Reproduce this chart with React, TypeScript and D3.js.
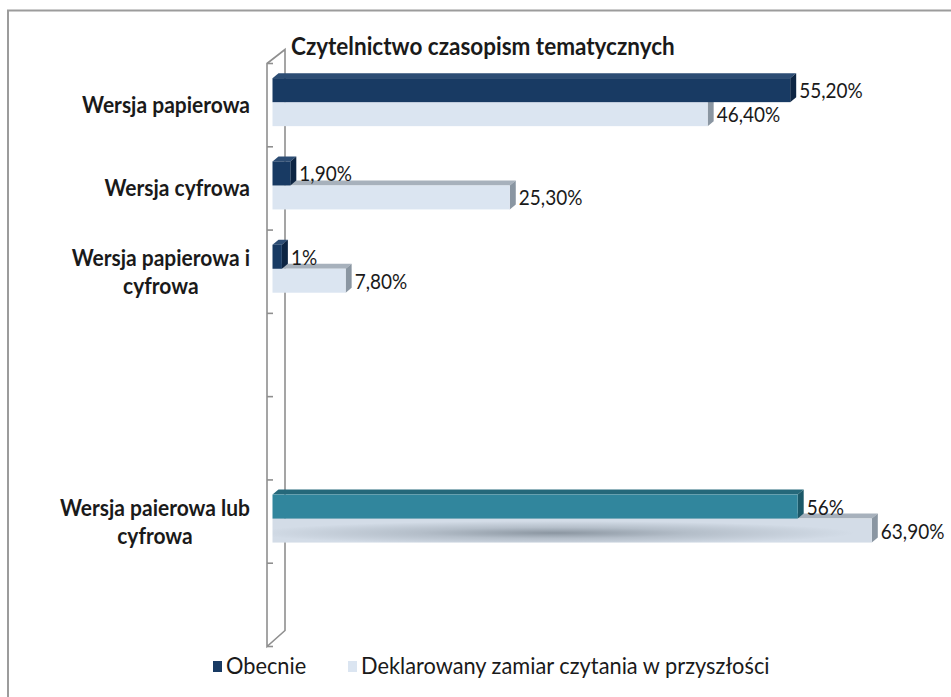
import React, { useEffect, useRef } from "react";
import * as d3 from "d3";

// chart data
const categoryLines: string[][] = [
  ["Wersja papierowa"],
  ["Wersja cyfrowa"],
  ["Wersja papierowa i", "cyfrowa"],
  [],
  [],
  ["Wersja paierowa lub", "cyfrowa"],
  [],
];
const obecnie: (number | null)[] = [55.2, 1.9, 1, null, null, 56, null];
const deklarowany: (number | null)[] = [46.4, 25.3, 7.8, null, null, 63.9, null];
const obecnieLabels = ["55,20%", "1,90%", "1%", "", "", "56%", ""];
const deklarowanyLabels = ["46,40%", "25,30%", "7,80%", "", "", "63,90%", ""];
const seriesNames = ["Obecnie", "Deklarowany zamiar czytania w przyszłości"];
const chartTitle = "Czytelnictwo czasopism tematycznych";
const summaryRow = 5; // drawn in teal with shaded bar

const W = 951;
const H = 697;
const FONT = "Lato, 'Open Sans', sans-serif";
const STRETCH = 1.1; // text in the reference is a bit tall
const DX = 6;
const DY = 5;

const navy = { front: "#183a63", top: "#2d4d74", side: "#0d2543" };
const light = { front: "#dbe5f1", top: "#a7b1bc", side: "#8a96a2" };
const teal = { front: "#31869d", top: "#25687a", side: "#1b5868" };

export default function App() {
  const ref = useRef<SVGSVGElement>(null);

  useEffect(() => {
    const svg = d3.select(ref.current);
    svg.selectAll("*").remove();

    const defs = svg.append("defs");
    const grad = defs
      .append("radialGradient")
      .attr("id", "shade")
      .attr("cx", 0.47)
      .attr("cy", 0.6)
      .attr("r", 0.5);
    grad.append("stop").attr("offset", "0%").attr("stop-color", "#8b96a1");
    grad.append("stop").attr("offset", "45%").attr("stop-color", "#b4bec9");
    grad.append("stop").attr("offset", "100%").attr("stop-color", "#d3dce7");

    // outer frame (cut off on the right and bottom)
    svg
      .append("rect")
      .attr("x", 8)
      .attr("y", 10.5)
      .attr("width", 1000)
      .attr("height", 1000)
      .attr("fill", "none")
      .attr("stroke", "#9c9c9c")
      .attr("stroke-width", 2);

    const idx = d3.range(categoryLines.length);
    const y = d3.scaleBand<number>().domain(idx).range([63.5, 646.5]);
    const x = d3.scaleLinear().domain([0, 70]).range([272.5, 929]);
    const bw = y.bandwidth();
    const sub = d3.scaleBand<number>().domain([0, 1]).range([0, 48]);

    // 3d wall
    const frontX = 267;
    const backX = 285;
    const wall = svg.append("g").attr("stroke", "#8f8f8f").attr("stroke-width", 1.6).attr("fill", "none");
    const y0 = y.range()[0];
    const y1 = y.range()[1];
    wall
      .append("path")
      .attr("d", `M${frontX},${y0} L${backX},${y0 - 14} L${backX},${y1 - 16} L${frontX},${y1} Z`);
    idx.concat([idx.length]).forEach((i) => {
      const ty = i < idx.length ? y(i)! : y1;
      wall.append("line").attr("x1", frontX).attr("x2", frontX + 6).attr("y1", ty).attr("y2", ty);
    });

    const bar3d = (
      g: d3.Selection<SVGGElement, unknown, null, undefined>,
      v: number,
      top: number,
      h: number,
      c: { front: string; top: string; side: string },
      frontFill?: string
    ) => {
      const a = x(0);
      const b = x(v);
      g.append("path")
        .attr("d", `M${a},${top} L${a + DX},${top - DY} L${b + DX},${top - DY} L${b},${top} Z`)
        .attr("fill", c.top);
      g.append("path")
        .attr("d", `M${b},${top} L${b + DX},${top - DY} L${b + DX},${top + h - DY} L${b},${top + h} Z`)
        .attr("fill", c.side);
      g.append("rect")
        .attr("x", a)
        .attr("y", top)
        .attr("width", b - a)
        .attr("height", h)
        .attr("fill", frontFill ?? c.front);
    };

    const label = (
      g: d3.Selection<any, unknown, null, undefined>,
      txt: string,
      tx: number,
      ty: number,
      size: number,
      weight: string | number,
      anchor = "start"
    ) =>
      g
        .append("text")
        .attr("transform", `translate(${tx},${ty}) scale(1,${STRETCH})`)
        .attr("font-family", FONT)
        .attr("font-size", size)
        .attr("font-weight", weight)
        .attr("fill", "#1a1a1a")
        .attr("text-anchor", anchor)
        .text(txt);

    const bars = svg.append("g");
    const labels = svg.append("g");
    idx.forEach((i) => {
      const pairTop = y(i)! + (bw - 48) / 2 - 3;
      const h = sub.bandwidth();
      const vDek = deklarowany[i];
      const vOb = obecnie[i];
      const isSum = i === summaryRow;
      if (vDek != null) {
        bar3d(bars, vDek, pairTop + sub(1)!, h, light, isSum ? "url(#shade)" : undefined);
        label(labels, deklarowanyLabels[i], x(vDek) + DX + 3, pairTop + sub(1)! + h / 2 + 8, 19, 400);
      }
      if (vOb != null) {
        bar3d(bars, vOb, pairTop + sub(0)!, h, isSum ? teal : navy);
        label(labels, obecnieLabels[i], x(vOb) + DX + 3, pairTop + sub(0)! + h / 2 + 8, 19, 400);
      }
    });

    // category labels, lines centred on each other, right edge near the wall
    const cats = svg.append("g");
    idx.forEach((i) => {
      const lines = categoryLines[i];
      if (!lines.length) return;
      const c = y(i)! + bw / 2;
      const nodes = lines.map((ln, k) =>
        label(cats, ln, 0, c + 8 + (k - (lines.length - 1) / 2) * 28, 21, 700, "middle")
      );
      const wMax = d3.max(nodes, (n) => (n.node() as SVGTextElement).getComputedTextLength()) ?? 0;
      const cx = 250 - wMax / 2;
      nodes.forEach((n, k) =>
        n.attr("transform", `translate(${cx},${c + 8 + (k - (lines.length - 1) / 2) * 28}) scale(1,${STRETCH})`)
      );
    });

    // title
    label(svg, chartTitle, 291, 55, 22.5, 700);

    // legend
    const lg = svg.append("g");
    const legendX = [213, 348];
    const legendColors = [navy.front, light.front];
    seriesNames.forEach((s, k) => {
      lg.append("rect").attr("x", legendX[k]).attr("y", 661).attr("width", 9).attr("height", 11).attr("fill", legendColors[k]);
      label(lg, s, legendX[k] + 13, 674, 21.8, 400);
    });
  }, []);

  return (
    <svg
      ref={ref}
      width={W}
      height={H}
      style={{ position: "absolute", left: 0, top: 0, background: "#fff" }}
    />
  );
}
